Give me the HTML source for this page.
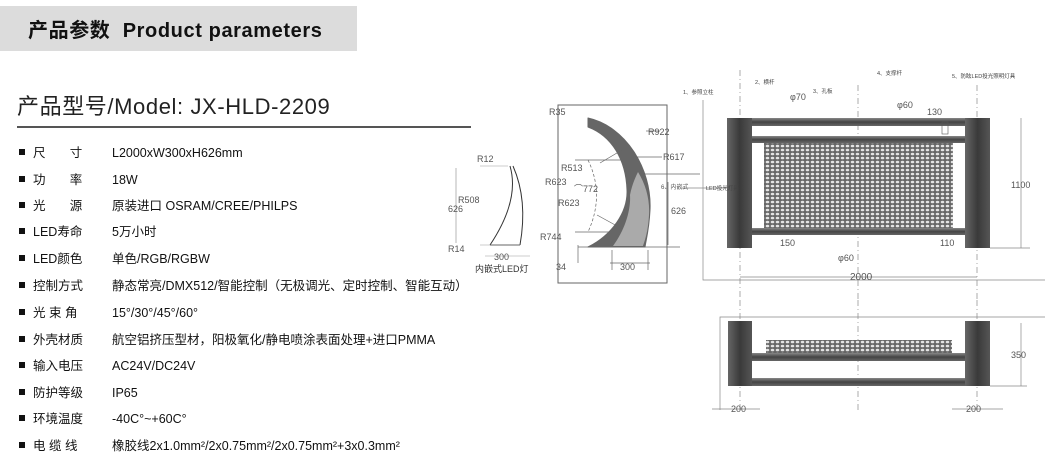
<!DOCTYPE html>
<html><head><meta charset="utf-8">
<style>
body{margin:0;width:1053px;height:458px;background:#fff;position:relative;overflow:hidden;font-family:"Liberation Sans","Noto Sans CJK SC",sans-serif;color:#111}
.hdr{position:absolute;left:0;top:6px;width:357px;height:45px;background:#dcdcdc}
.hdr span{position:absolute;left:28px;top:8px;font-size:20px;font-weight:bold;white-space:nowrap;letter-spacing:.6px}
.model{position:absolute;left:17px;top:89px;font-size:22px;white-space:nowrap;color:#222;letter-spacing:.6px}
.rule{position:absolute;left:17px;top:126px;width:454px;height:2px;background:#555}
.row{position:absolute;left:19px;font-size:12.5px;white-space:nowrap;line-height:16px}
.row b{display:inline-block;width:6px;height:6px;background:#111;margin-right:8px;vertical-align:2px}
.row .l{display:inline-block;width:79px}
svg{position:absolute;left:0;top:0}
</style></head><body>
<div class="hdr"><span>产品参数&nbsp; Product parameters</span></div>
<div class="model">产品型号/Model:&nbsp;JX-HLD-2209</div>
<div class="rule"></div>
<div class="row" style="top:145px"><b></b><span class="l">尺&nbsp;&nbsp;&nbsp;&nbsp;&nbsp;&nbsp;&nbsp;寸</span>L2000xW300xH626mm</div>
<div class="row" style="top:172px"><b></b><span class="l">功&nbsp;&nbsp;&nbsp;&nbsp;&nbsp;&nbsp;&nbsp;率</span>18W</div>
<div class="row" style="top:198px"><b></b><span class="l">光&nbsp;&nbsp;&nbsp;&nbsp;&nbsp;&nbsp;&nbsp;源</span>原装进口 OSRAM/CREE/PHILPS</div>
<div class="row" style="top:224px"><b></b><span class="l">LED寿命</span>5万小时</div>
<div class="row" style="top:251px"><b></b><span class="l">LED颜色</span>单色/RGB/RGBW</div>
<div class="row" style="top:278px"><b></b><span class="l">控制方式</span>静态常亮/DMX512/智能控制（无极调光、定时控制、智能互动）</div>
<div class="row" style="top:305px"><b></b><span class="l">光 束 角</span>15°/30°/45°/60°</div>
<div class="row" style="top:332px"><b></b><span class="l">外壳材质</span>航空铝挤压型材，阳极氧化/静电喷涂表面处理+进口PMMA</div>
<div class="row" style="top:358px"><b></b><span class="l">输入电压</span>AC24V/DC24V</div>
<div class="row" style="top:385px"><b></b><span class="l">防护等级</span>IP65</div>
<div class="row" style="top:411px"><b></b><span class="l">环境温度</span>-40C°~+60C°</div>
<div class="row" style="top:438px"><b></b><span class="l">电 缆 线</span>橡胶线2x1.0mm²/2x0.75mm²/2x0.75mm²+3x0.3mm²</div>

<svg width="1053" height="458" viewBox="0 0 1053 458" font-family="Liberation Sans, Noto Sans CJK SC, sans-serif" font-size="9" fill="#555">
<defs>
<pattern id="mesh" width="5" height="4" patternUnits="userSpaceOnUse"><rect width="5" height="4" fill="#666"/><ellipse cx="2.5" cy="2" rx="1.8" ry="1.3" fill="#e4e4e4"/></pattern>
<linearGradient id="post" x1="0" x2="1"><stop offset="0" stop-color="#666"/><stop offset=".5" stop-color="#3a3a3a"/><stop offset="1" stop-color="#555"/></linearGradient>
<linearGradient id="bar" x1="0" y1="0" x2="0" y2="1"><stop offset="0" stop-color="#888"/><stop offset=".5" stop-color="#444"/><stop offset="1" stop-color="#666"/></linearGradient>
</defs>
<g stroke="#333" fill="none" stroke-width="1">
<path d="M510 166 Q520 200 490 245" />
<path d="M513 166 Q528 200 520 245" />
<path d="M490 245 H520" />
<line x1="480" y1="166" x2="508" y2="166" stroke="#999" stroke-width=".6"/>
<line x1="480" y1="245" x2="520" y2="245" stroke="#999" stroke-width=".6"/>
<line x1="456" y1="168" x2="456" y2="243" stroke="#999" stroke-width=".7"/>
<line x1="485" y1="256" x2="530" y2="256" stroke="#999" stroke-width=".6"/>
</g>
<text x="477" y="162">R12</text><text x="545" y="185">R623</text><text x="458" y="203">R508</text><text x="448" y="212">626</text>
<text x="448" y="252">R14</text><text x="540" y="240">R744</text><text x="494" y="260">300</text>
<text x="475" y="272" font-size="9" fill="#333">内嵌式LED灯</text>
<rect x="558" y="105" width="109" height="178" fill="none" stroke="#666" stroke-width="1"/>
<path d="M588 118 C625 126 652 168 650 210 C649 230 646 240 645 247 L588 247 C612 235 628 212 627 190 C626 160 612 136 588 127 Z" fill="#666" stroke="#666" stroke-width="1" stroke-linejoin="round"/>
<path d="M638 172 C646 185 650 200 649 215 C648 232 645 240 643 246 L613 246 C625 230 631 210 630 195 C632 185 635 178 638 172 Z" fill="#aaa"/>
<g stroke="#666" stroke-width=".7" fill="none">
<line x1="575" y1="160" x2="622" y2="160"/><line x1="575" y1="232" x2="620" y2="232"/>
<path d="M588 160 Q605 195 588 232" stroke-dasharray="3 2"/>
<line x1="600" y1="163" x2="622" y2="150"/><line x1="597" y1="215" x2="617" y2="226"/>
<line x1="640" y1="174" x2="700" y2="174"/><line x1="668" y1="182" x2="668" y2="245"/>
<line x1="578" y1="247" x2="680" y2="247"/><line x1="578" y1="245" x2="578" y2="263"/>
<line x1="610" y1="263" x2="650" y2="263"/><line x1="612" y1="250" x2="612" y2="270"/><line x1="648" y1="250" x2="648" y2="270"/>
<line x1="646" y1="131" x2="660" y2="131"/><line x1="633" y1="157" x2="662" y2="157"/>
</g>
<text x="549" y="115">R35</text><text x="648" y="135">R922</text><text x="561" y="171">R513</text><text x="663" y="160">R617</text>
<text x="574" y="192">⌒772</text><text x="558" y="206">R623</text><text x="671" y="214">626</text><text x="661" y="189" font-size="6">6、内嵌式</text>
<text x="556" y="270">34</text><text x="620" y="270">300</text>
<g stroke="#888" stroke-width=".7" fill="none">
<polyline points="703,100 703,280 1045,280"/>
<line x1="740" y1="70" x2="740" y2="300" stroke-dasharray="6 3 1 3"/>
<line x1="858" y1="85" x2="858" y2="300" stroke-dasharray="6 3 1 3"/>
<line x1="977" y1="85" x2="977" y2="300" stroke-dasharray="6 3 1 3"/>
<line x1="1021" y1="118" x2="1021" y2="248"/><line x1="990" y1="248" x2="1030" y2="248"/>
<line x1="740" y1="277" x2="977" y2="277"/>
<line x1="680" y1="188" x2="730" y2="188"/>
</g>
<rect x="752" y="136" width="213" height="7" fill="url(#bar)"/>
<rect x="764" y="143" width="189" height="85" fill="url(#mesh)"/>
<rect x="752" y="228" width="213" height="7" fill="url(#bar)"/>
<rect x="727" y="118" width="263" height="8" fill="url(#bar)"/>
<rect x="727" y="118" width="25" height="130" fill="url(#post)"/>
<rect x="965" y="118" width="25" height="130" fill="url(#post)"/>
<rect x="942" y="122" width="6" height="12" fill="none" stroke="#555" stroke-width=".6"/>
<g font-size="5.5" fill="#444"><text x="683" y="94">1、参照立柱</text><text x="755" y="84">2、横杆</text><text x="813" y="93">3、孔板</text><text x="877" y="75">4、支撑杆</text><text x="952" y="78">5、防眩LED投光照明灯具</text><text x="706" y="190">LED投光灯具</text></g>
<text x="790" y="100">φ70</text><text x="897" y="108">φ60</text><text x="927" y="115">130</text>
<text x="780" y="246">150</text><text x="940" y="246">110</text><text x="838" y="261">φ60</text>
<text x="1011" y="188">1100</text><text x="850" y="280" font-size="10">2000</text>
<g stroke="#888" stroke-width=".7" fill="none">
<polyline points="720,410 720,317 1045,317"/>
<line x1="740" y1="300" x2="740" y2="410" stroke-dasharray="6 3 1 3"/>
<line x1="858" y1="300" x2="858" y2="410" stroke-dasharray="6 3 1 3"/>
<line x1="977" y1="300" x2="977" y2="410" stroke-dasharray="6 3 1 3"/>
<line x1="1021" y1="323" x2="1021" y2="386"/><line x1="990" y1="386" x2="1027" y2="386"/>
<line x1="712" y1="409" x2="760" y2="409"/><line x1="952" y1="409" x2="1003" y2="409"/>
</g>
<rect x="766" y="340" width="186" height="13" fill="url(#mesh)"/>
<rect x="752" y="353" width="213" height="8" fill="url(#bar)"/>
<rect x="752" y="378" width="213" height="8" fill="url(#bar)"/>
<rect x="728" y="321" width="24" height="65" fill="url(#post)"/>
<rect x="965" y="321" width="25" height="65" fill="url(#post)"/>
<text x="1011" y="358">350</text><text x="731" y="412">200</text><text x="966" y="412">200</text>
</svg>
</body></html>
